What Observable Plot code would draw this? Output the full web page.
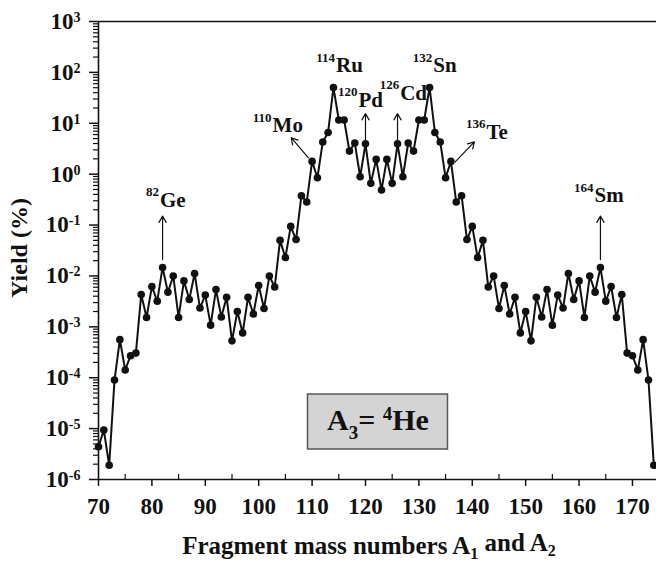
<!DOCTYPE html>
<html><head><meta charset="utf-8">
<script src="https://cdn.jsdelivr.net/npm/d3@7"></script>
<script src="https://cdn.jsdelivr.net/npm/@observablehq/plot@0.6"></script>
<style>
body{margin:0;background:#fff;}
#chart{width:656px;height:567px;overflow:hidden;}
#chart svg text{font-family:"Liberation Serif","Times New Roman",serif;font-weight:bold;}
</style></head>
<body><div id="chart"></div>
<script>
const masses = [70,71,72,73,74,75,76,77,78,79,80,81,82,83,84,85,86,87,88,89,90,91,92,93,94,95,96,97,98,99,
100,101,102,103,104,105,106,107,108,109,110,111,112,113,114,115,116,117,118,119,120,121,122,123,
124,125,126,127,128,129,130,131,132,133,134,135,136,137,138,139,140,141,142,143,144,145,146,147,148,149,
150,151,152,153,154,155,156,157,158,159,160,161,162,163,164,165,166,167,168,169,170,171,172,173,174];
const yields = [4.4e-6,9.4e-6,1.9e-6,9.0e-5,5.6e-4,1.42e-4,2.7e-4,3.05e-4,4.3e-3,1.53e-3,
6.2e-3,3.2e-3,1.47e-2,4.8e-3,1.0e-2,1.53e-3,8.0e-3,3.45e-3,1.12e-2,2.34e-3,
4.2e-3,1.08e-3,5.4e-3,1.56e-3,3.8e-3,5.3e-4,2.0e-3,7.6e-4,3.8e-3,1.79e-3,
6.5e-3,2.3e-3,1.0e-2,6.05e-3,5.0e-2,2.3e-2,9.4e-2,5.2e-2,0.377,0.283,
1.78,0.85,4.3,6.6,50.5,11.6,11.6,2.84,4.1,0.89,3.95,0.66,1.95,0.49,
1.95,0.66,3.95,0.89,4.1,2.84,11.6,11.6,50.5,6.6,4.3,0.85,1.78,0.283,0.377,5.2e-2,
9.4e-2,2.3e-2,5.0e-2,6.05e-3,1.0e-2,2.3e-3,6.5e-3,1.79e-3,3.8e-3,7.6e-4,
2.0e-3,5.3e-4,3.8e-3,1.56e-3,5.4e-3,1.08e-3,4.2e-3,2.34e-3,1.12e-2,3.45e-3,
8.0e-3,1.53e-3,1.0e-2,4.8e-3,1.47e-2,3.2e-3,6.2e-3,1.53e-3,4.3e-3,3.05e-4,
2.7e-4,1.42e-4,5.6e-4,9.0e-5,1.9e-6];

const yTicks = [1e-6,1e-5,1e-4,1e-3,1e-2,1e-1,1,10,100,1000];
const xTicks = [70,80,90,100,110,120,130,140,150,160,170];
const xMinorTicks = [75,85,95,105,115,125,135,145,155,165];

const isoMass = ["82","110","114","120","126","132","136","164"];
const isoName = ["Ge","Mo","Ru","Pd","Cd","Sn","Te","Sm"];
const labelX = [81.5,102.6,114.5,118.7,126.5,132.7,142.65,162.9];
const labelY = [0.31,9.1,135,28.8,39,135,6.8,0.377];

const arrowX1 = [82,109.3,120,126,136.8,164];
const arrowY1 = [0.021,2.1,4.5,4.5,1.75,0.021];
const arrowX2 = [82,106.1,120,126,140.4,164];
const arrowY2 = [0.15,5.2,15.5,15.5,4.3,0.15];

const yMinorTicks = [];
for (let k = -6; k < 3; k++) for (let m = 2; m <= 9; m++) yMinorTicks.push(m * Math.pow(10, k));

const data = masses.map((m, i) => ({m, y: yields[i]}));
const labels = isoMass.map((s, i) => ({s, name: isoName[i], x: labelX[i], y: labelY[i]}));
const arrows = arrowX1.map((x1, i) => ({x1, y1: arrowY1[i], x2: arrowX2[i], y2: arrowY2[i]}));

const FONT = '"Liberation Serif","Times New Roman",serif';
const ink = "#111";

const plot = Plot.plot({
  width: 656, height: 567,
  marginLeft: 98, marginRight: 0, marginTop: 21, marginBottom: 88,
  style: {fontFamily: FONT, fontWeight: "bold", fontSize: "20px", color: ink, background: "white", overflow: "visible"},
  x: {domain: [70, 174.5], label: null},
  y: {type: "log", domain: [1e-6, 1e3], label: null},
  marks: [
    Plot.ruleY([1e3], {stroke: ink, strokeWidth: 1.6}),
    Plot.ruleY([1e-6], {stroke: ink, strokeWidth: 1.6}),
    Plot.ruleX([70], {stroke: ink, strokeWidth: 1.6}),
    Plot.axisY({ticks: yMinorTicks, tickSize: 5, tickFormat: () => "", stroke: ink, strokeWidth: 1.2}),
    Plot.axisY({ticks: yTicks, tickSize: 9, tickPadding: 9, fontSize: 23, stroke: ink, strokeWidth: 1.5,
      tickFormat: d => String(Math.round(Math.log10(d)))}),
    Plot.axisX({ticks: xTicks, tickSize: 7, tickPadding: 11, fontSize: 23, stroke: ink, strokeWidth: 1.5,
      tickFormat: d => String(d)}),
    Plot.axisX({ticks: xMinorTicks, tickSize: 5, dy: -5, tickFormat: () => "", stroke: ink, strokeWidth: 1.2}),
    Plot.line(data, {x: "m", y: "y", stroke: ink, strokeWidth: 2}),
    Plot.dot(data, {x: "m", y: "y", r: 3.8, fill: ink, stroke: "none"}),
    Plot.arrow(arrows, {x1: "x1", y1: "y1", x2: "x2", y2: "y2", stroke: ink, strokeWidth: 1.2, headLength: 9}),
    Plot.text(labels, {x: "x", y: "y", text: "name", textAnchor: "start", fontSize: 21, fill: ink}),
    Plot.text(labels, {x: "x", y: "y", text: "s", textAnchor: "end", fontSize: 13, dy: -8, dx: -1, fill: ink})
  ]
});

document.getElementById("chart").appendChild(plot);
const svg = d3.select(plot);

// Y tick labels as 10^n (skip empty minor labels)
svg.selectAll('g[aria-label="y-axis tick label"] text').each(function() {
  const e = this.textContent;
  if (!e) return;
  const t = d3.select(this);
  t.text("");
  t.append("tspan").text("10");
  t.append("tspan").attr("dy", "-0.5em").attr("font-size", "14px").text(e);
});

// Y axis title
svg.append("text")
  .attr("transform", "translate(27,248) rotate(-90)")
  .attr("text-anchor", "middle")
  .attr("font-family", FONT).attr("font-weight", "bold").attr("font-size", 24).attr("fill", ink)
  .text("Yield (%)");

// X axis title
const xt = svg.append("text")
  .attr("x", 369).attr("y", 554)
  .attr("text-anchor", "middle")
  .attr("font-family", FONT).attr("font-weight", "bold").attr("font-size", 25).attr("fill", ink);
xt.append("tspan").text("Fragment mass numbers A");
xt.append("tspan").attr("dy", "0.3em").attr("font-size", 16).text("1");
xt.append("tspan").attr("dy", "-0.3em").text(" and A");
xt.append("tspan").attr("dy", "0.3em").attr("font-size", 16).text("2");

// Inset box
const g = svg.append("g");
g.append("rect").attr("x", 307.5).attr("y", 394).attr("width", 140).attr("height", 55)
  .attr("fill", "#d4d4d4").attr("stroke", "#555").attr("stroke-width", 1.5);
const lt = g.append("text").attr("x", 327).attr("y", 430).attr("text-anchor", "start")
  .attr("font-family", FONT).attr("font-weight", "bold").attr("font-size", 30).attr("fill", ink);
lt.append("tspan").text("A");
lt.append("tspan").attr("dy", 9).attr("font-size", 19).text("3");
lt.append("tspan").attr("dy", -9).text("= ");
lt.append("tspan").attr("dy", -10).attr("font-size", 19).text("4");
lt.append("tspan").attr("dy", 10).text("He");
</script>
</body></html>
